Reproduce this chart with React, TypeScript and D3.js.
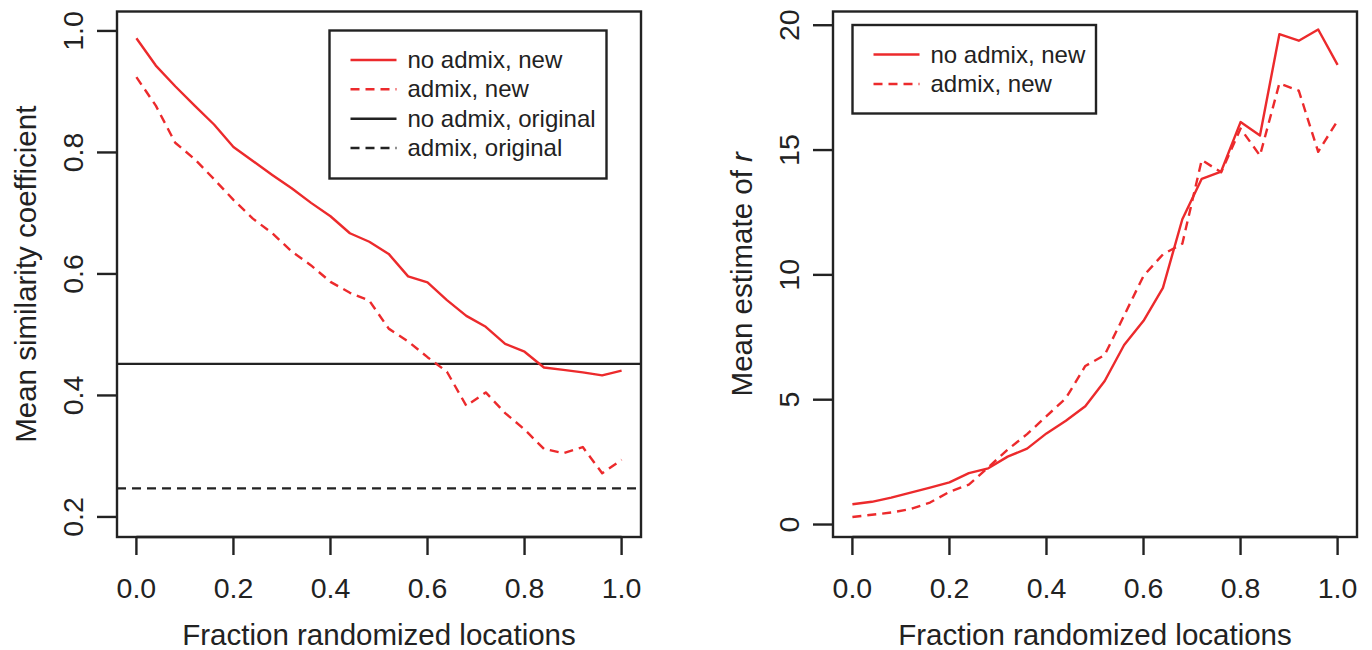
import React from "react";
import * as d3 from "d3";

const fractions = [0, 0.04, 0.08, 0.12, 0.16, 0.2, 0.24, 0.28, 0.32, 0.36, 0.4, 0.44, 0.48, 0.52, 0.56, 0.6, 0.64, 0.68, 0.72, 0.76, 0.8, 0.84, 0.88, 0.92, 0.96, 1.0];

// Left panel: mean similarity coefficient
const simNoAdmixNew = [0.988, 0.943, 0.909, 0.877, 0.846, 0.809, 0.786, 0.763, 0.741, 0.717, 0.695, 0.667, 0.653, 0.633, 0.596, 0.586, 0.557, 0.531, 0.513, 0.485, 0.472, 0.446, 0.442, 0.438, 0.433, 0.441];
const simAdmixNew = [0.924, 0.877, 0.816, 0.789, 0.756, 0.722, 0.691, 0.667, 0.637, 0.614, 0.587, 0.569, 0.556, 0.51, 0.489, 0.463, 0.439, 0.383, 0.405, 0.371, 0.344, 0.312, 0.305, 0.315, 0.272, 0.294];
const simNoAdmixOriginal = 0.452;
const simAdmixOriginal = 0.247;

// Right panel: mean estimate of r
const rNoAdmixNew = [0.81, 0.91, 1.08, 1.28, 1.48, 1.69, 2.06, 2.25, 2.72, 3.04, 3.65, 4.16, 4.74, 5.75, 7.19, 8.16, 9.48, 12.23, 13.85, 14.14, 16.12, 15.58, 19.64, 19.38, 19.83, 18.41];
const rAdmixNew = [0.3, 0.39, 0.48, 0.62, 0.88, 1.31, 1.6, 2.29, 3.0, 3.62, 4.34, 5.06, 6.35, 6.79, 8.37, 9.96, 10.82, 11.25, 14.6, 14.11, 15.86, 14.78, 17.67, 17.38, 14.93, 16.18];

const xTicks = [0, 0.2, 0.4, 0.6, 0.8, 1.0];
const simTicks = [0.2, 0.4, 0.6, 0.8, 1.0];
const rTicks = [0, 5, 10, 15, 20];

const leftLegend = [
  { label: "no admix, new", color: "red", dash: false },
  { label: "admix, new", color: "red", dash: true },
  { label: "no admix, original", color: "black", dash: false },
  { label: "admix, original", color: "black", dash: true },
];
const rightLegend = leftLegend.slice(0, 2);

const RED = "#ec2a2c";
const INK = "#222222";
const FONT = "'Liberation Sans', Arial, Helvetica, sans-serif";
const DASH = "9,6";
const TICK_FS = 28.5;
const TITLE_FS = 29.5;
const LEG_FS = 24;

type Panel = {
  left: number; right: number; top: number; bottom: number;
  yDomain: [number, number];
};

function colorOf(c: string) { return c === "red" ? RED : INK; }

function Axes({ p, x, y, yTicks, yFmt, yTitle }: any) {
  const cx = (p.left + p.right) / 2;
  const cy = (p.top + p.bottom) / 2;
  return (
    <g fontFamily={FONT} fill={INK}>
      <rect x={p.left} y={p.top} width={p.right - p.left} height={p.bottom - p.top} fill="none" stroke={INK} strokeWidth={2.4} />
      <line x1={x(xTicks[0])} x2={x(xTicks[xTicks.length - 1])} y1={p.bottom} y2={p.bottom} stroke={INK} strokeWidth={2.4} />
      {xTicks.map((t) => (
        <g key={"x" + t}>
          <line x1={x(t)} x2={x(t)} y1={p.bottom} y2={p.bottom + 18} stroke={INK} strokeWidth={2.4} />
          <text x={x(t)} y={598} fontSize={TICK_FS} textAnchor="middle">{d3.format(".1f")(t)}</text>
        </g>
      ))}
      {yTicks.map((t: number) => (
        <g key={"y" + t}>
          <line x1={p.left - 20} x2={p.left} y1={y(t)} y2={y(t)} stroke={INK} strokeWidth={2.4} />
          <text transform={`translate(${p.left - 34},${y(t)}) rotate(-90)`} fontSize={TICK_FS} textAnchor="middle">{yFmt(t)}</text>
        </g>
      ))}
      <text x={cx} y={645} fontSize={TITLE_FS} textAnchor="middle">Fraction randomized locations</text>
      <text transform={`translate(${p.left - 81},${cy}) rotate(-90)`} fontSize={TITLE_FS} textAnchor="middle">{yTitle}</text>
    </g>
  );
}

function Legend({ x0, y0, w, h, rows, items }: any) {
  return (
    <g fontFamily={FONT}>
      <rect x={x0} y={y0} width={w} height={h} fill="white" stroke={INK} strokeWidth={2.4} />
      {items.map((it: any, i: number) => (
        <g key={it.label}>
          <line x1={x0 + 21} x2={x0 + 67} y1={rows[i]} y2={rows[i]} stroke={colorOf(it.color)} strokeWidth={2.4} strokeDasharray={it.dash ? DASH : undefined} />
          <text x={x0 + 78} y={rows[i] + 8} fontSize={LEG_FS} fill={INK}>{it.label}</text>
        </g>
      ))}
    </g>
  );
}

export default function App() {
  const L: Panel = { left: 117, right: 641, top: 11.5, bottom: 537, yDomain: [0.167, 1.032] };
  const R: Panel = { left: 833, right: 1357, top: 11.5, bottom: 537, yDomain: [-0.5, 20.55] };

  const xL = d3.scaleLinear().domain([-0.04, 1.04]).range([L.left, L.right]);
  const yL = d3.scaleLinear().domain(L.yDomain).range([L.bottom, L.top]);
  const xR = d3.scaleLinear().domain([-0.04, 1.04]).range([R.left, R.right]);
  const yR = d3.scaleLinear().domain(R.yDomain).range([R.bottom, R.top]);

  const lineL = d3.line<number>().x((_, i) => xL(fractions[i])).y((d) => yL(d));
  const lineR = d3.line<number>().x((_, i) => xR(fractions[i])).y((d) => yR(d));

  return (
    <svg width={1372} height={650} style={{ position: "absolute", left: 0, top: 0, background: "white" }}>
      <rect width={1372} height={650} fill="white" />
      {/* Left panel */}
      <line x1={L.left} x2={L.right} y1={yL(simNoAdmixOriginal)} y2={yL(simNoAdmixOriginal)} stroke={INK} strokeWidth={2.4} />
      <line x1={L.left} x2={L.right} y1={yL(simAdmixOriginal)} y2={yL(simAdmixOriginal)} stroke={INK} strokeWidth={2.4} strokeDasharray={DASH} />
      <path d={lineL(simNoAdmixNew) || ""} fill="none" stroke={RED} strokeWidth={2.4} strokeLinejoin="round" />
      <path d={lineL(simAdmixNew) || ""} fill="none" stroke={RED} strokeWidth={2.4} strokeDasharray={DASH} strokeLinejoin="round" />
      <Axes p={L} x={xL} y={yL} yTicks={simTicks} yFmt={d3.format(".1f")} yTitle="Mean similarity coefficient" />
      <Legend x0={329.5} y0={30.5} w={277} h={148} rows={[60, 89.3, 118.7, 148]} items={leftLegend} />

      {/* Right panel */}
      <path d={lineR(rNoAdmixNew) || ""} fill="none" stroke={RED} strokeWidth={2.4} strokeLinejoin="round" />
      <path d={lineR(rAdmixNew) || ""} fill="none" stroke={RED} strokeWidth={2.4} strokeDasharray={DASH} strokeLinejoin="round" />
      <Axes p={R} x={xR} y={yR} yTicks={rTicks} yFmt={d3.format("d")}
        yTitle={<>Mean estimate of <tspan fontStyle="italic">r</tspan></>} />
      <Legend x0={852.5} y0={25} w={243.5} h={88.5} rows={[54.5, 84]} items={rightLegend} />
    </svg>
  );
}
